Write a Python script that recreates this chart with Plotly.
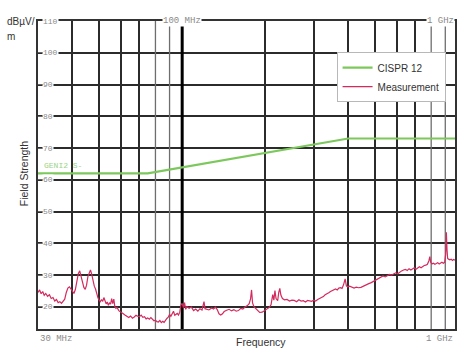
import numpy as np
import plotly.graph_objects as go

# CISPR 12 limit (dBµV/m) versus frequency (MHz)
limit_freq = [30, 75, 400, 976]
limit_level = [62, 62, 73, 73]

# Measured field strength (MHz, dBµV/m)
meas_freq = [
    30.0, 30.4, 30.8, 31.2, 31.6, 32.0, 32.5, 33.0, 33.5, 34.0, 34.5, 35.0, 35.5, 36.0, 36.5,
    37.0, 37.5, 38.0, 38.5, 39.0, 39.5, 40.0, 40.5, 41.0, 41.5, 42.0, 42.5, 43.0, 43.5, 44.0,
    44.5, 45.0, 45.5, 46.0, 46.5, 47.0, 47.5, 48.0, 48.5, 49.0, 49.5, 50.0, 50.5, 51.0, 51.5,
    52.0, 52.5, 53.0, 53.5, 54.0, 54.5, 55.0, 55.5, 56.0, 56.5, 57.0, 57.5, 58.0, 59.0, 60.0,
    61.0, 62.0, 63.0, 64.0, 65.0, 66.0, 67.0, 68.0, 69.0, 70.0, 71.0, 72.0, 73.0, 74.0, 75.0,
    76.0, 77.0, 78.0, 79.0, 80.0, 81.0, 82.0, 83.0, 84.0, 85.0, 86.0, 87.0, 88.0, 89.0, 90.0,
    91.0, 92.0, 93.0, 94.0, 95.0, 96.0, 97.0, 98.0, 99.0, 100.0, 101.0, 102.0, 103.0, 104.0,
    106.0, 108.0, 110.0, 112.0, 114.0, 116.0, 118.0, 120.0, 121.0, 123.0, 125.0, 128.0, 130.0,
    132.0, 134.0, 136.0, 138.0, 140.0, 142.0, 145.0, 148.0, 151.0, 154.0, 157.0, 160.0, 163.0,
    166.0, 169.0, 172.0, 175.0, 177.0, 178.5, 180.0, 182.0, 185.0, 188.0, 191.0, 195.0, 199.0,
    203.0, 207.0, 210.0, 213.0, 215.0, 217.0, 219.0, 222.0, 224.0, 226.0, 228.0, 231.0, 235.0,
    240.0, 245.0, 250.0, 255.0, 260.0, 265.0, 270.0, 275.0, 280.0, 285.0, 290.0, 295.0, 300.0,
    305.0, 310.0, 315.0, 320.0, 325.0, 330.0, 335.0, 340.0, 345.0, 350.0, 355.0, 360.0, 365.0,
    370.0, 375.0, 380.0, 385.0, 390.0, 394.0, 398.0, 405.0, 412.0, 420.0, 428.0, 436.0, 445.0,
    455.0, 465.0, 475.0, 485.0, 495.0, 505.0, 515.0, 525.0, 535.0, 545.0, 555.0, 565.0, 575.0,
    585.0, 595.0, 605.0, 615.0, 625.0, 635.0, 645.0, 655.0, 665.0, 675.0, 685.0, 695.0, 705.0,
    715.0, 725.0, 735.0, 745.0, 755.0, 765.0, 775.0, 785.0, 791.0, 797.0, 805.0, 815.0, 825.0,
    835.0, 845.0, 855.0, 865.0, 875.0, 885.0, 895.0, 903.0, 908.0, 913.0, 918.0, 925.0, 935.0,
    945.0, 955.0, 965.0, 976.0,
]
meas_level = [
    24.5, 25.3, 24.1, 24.8, 23.6, 24.2, 23.3, 23.8, 22.6, 22.9, 21.8, 22.3, 21.3, 21.6, 21.1,
    21.8, 22.4, 24.5, 25.9, 26.3, 25.6, 25.0, 24.2, 25.5, 28.5, 30.4, 31.3, 29.5, 27.0, 26.1,
    25.5, 26.8, 29.5, 31.0, 31.6, 30.2, 28.0, 26.5, 25.6, 24.0, 22.8, 22.1, 21.6, 22.3, 21.7,
    22.9, 21.4, 20.9, 21.5, 20.5, 21.2, 20.8, 22.6, 21.0, 22.4, 20.0, 19.5, 19.8, 18.7, 18.4,
    17.9, 17.4, 17.0, 16.6, 17.1, 16.4, 16.8, 17.3, 17.0, 16.9, 17.4, 16.7, 16.9, 16.2, 16.5,
    16.1, 16.6, 16.0, 15.6, 15.8, 15.3, 15.2, 15.7, 15.0, 15.4, 15.1, 15.9, 16.3, 16.7, 17.6,
    17.0, 17.8, 18.6, 17.3, 17.5, 17.9, 17.4, 18.3, 20.6, 21.1, 19.7, 21.3, 19.2, 20.0,
    19.5, 19.9, 18.8, 19.3, 18.6, 19.4, 19.0, 21.6, 19.4, 19.2, 19.0, 19.6, 19.3,
    19.9, 19.1, 17.8, 17.4, 17.8, 18.5, 18.9, 19.2, 18.7, 19.1, 18.6, 18.8, 19.5,
    19.3, 19.9, 20.3, 21.0, 22.5, 25.3, 21.2, 20.0, 19.4, 18.5, 18.2, 18.3, 18.9,
    19.4, 19.8, 20.6, 23.8, 22.1, 25.1, 22.6, 21.9, 24.5, 25.8, 23.7, 22.6, 22.2,
    22.3, 21.8, 22.1, 22.0, 21.6, 22.2, 21.8, 21.9, 21.5, 22.0, 21.9, 21.7, 22.1,
    21.8, 22.3, 22.6, 22.9, 23.2, 23.8, 24.0, 24.4, 24.8, 25.0, 25.2, 25.6, 25.3,
    25.9, 26.0, 25.8, 27.0, 28.8, 26.6, 26.3, 26.5, 26.1, 25.9, 26.2, 26.0, 26.1,
    26.6, 26.9, 27.3, 27.6, 28.0, 28.5, 29.0, 29.3, 29.7, 29.4, 29.9, 30.2, 30.0,
    30.5, 30.7, 30.4, 31.0, 31.3, 31.6, 31.8, 31.4, 32.0, 31.6, 32.1, 32.3, 31.8,
    32.2, 32.6, 32.3, 32.8, 33.0, 33.1, 33.4, 34.5, 35.8, 34.0, 33.5, 33.7, 33.4,
    33.6, 33.9, 33.5, 33.8, 34.0, 33.7, 34.0, 36.5, 43.5, 38.0, 35.2, 35.0, 34.8,
    35.0, 34.6, 34.9, 34.7,
]

# Axis ticks and grid positions
y_ticks = [20, 30, 40, 50, 60, 70, 80, 90, 100, 110]
x_grid_dark = [40, 50, 60, 70, 200, 300, 400, 500, 600, 700]
x_grid_light = [80, 90, 800, 900]
x_grid_major = [100]

x_min, x_max = 30, 976
y_min, y_max = 13, 110

mono = "Liberation Mono"
sans = "Liberation Sans"

fig = go.Figure()

# lighter vertical grid lines
for f in x_grid_light:
    fig.add_trace(go.Scatter(
        x=[f, f], y=[y_min, y_max], mode="lines",
        line=dict(color="#6e6e6e", width=1.3),
        showlegend=False, hoverinfo="skip"))

# heavy 100 MHz decade line
for f in x_grid_major:
    fig.add_trace(go.Scatter(
        x=[f, f], y=[y_min, y_max], mode="lines",
        line=dict(color="#000000", width=3),
        showlegend=False, hoverinfo="skip"))

fig.add_trace(go.Scatter(
    x=limit_freq, y=limit_level, mode="lines", name="CISPR 12",
    line=dict(color="#7cc85c", width=2.2)))

fig.add_trace(go.Scatter(
    x=meas_freq, y=meas_level, mode="lines", name="Measurement",
    line=dict(color="#d42a5e", width=1.2)))

annotations = []
# level labels sitting on the horizontal grid lines
for v in y_ticks:
    annotations.append(dict(
        x=0, xref="paper", y=v, yref="y", xanchor="left", yanchor="middle",
        xshift=4, text=str(v), showarrow=False, bgcolor="white", borderpad=0,
        font=dict(family=mono, size=8, color="#8a8a8a")))

# frequency markers
annotations += [
    dict(x=np.log10(100), xref="x", y=1, yref="paper", xanchor="center", yanchor="middle",
         text="100 MHz", showarrow=False, bgcolor="white", borderpad=0,
         font=dict(family=mono, size=9, color="#8a8a8a")),
    dict(x=1, xref="paper", y=1, yref="paper", xanchor="right", yanchor="middle",
         text="1 GHz", showarrow=False, bgcolor="white", borderpad=0,
         font=dict(family=mono, size=9, color="#8a8a8a")),
    dict(x=0, xref="paper", y=0, yref="paper", xanchor="left", yanchor="top",
         yshift=-3, text="30 MHz", showarrow=False,
         font=dict(family=mono, size=9, color="#8a8a8a")),
    dict(x=1, xref="paper", y=0, yref="paper", xanchor="right", yanchor="top",
         yshift=-3, text="1 GHz", showarrow=False,
         font=dict(family=mono, size=9, color="#8a8a8a")),
    # limit line tag
    dict(x=0, xref="paper", y=limit_level[0], yref="y", xanchor="left", yanchor="bottom",
         xshift=4, yshift=1, text="GENI2 S-", showarrow=False,
         font=dict(family=mono, size=8, color="#9ad486")),
    # unit and axis titles
    dict(x=-33 / 419, xref="paper", y=1, yref="paper", xanchor="left", yanchor="middle",
         text="dBµV/", showarrow=False, font=dict(family=sans, size=10, color="#333333")),
    dict(x=-33 / 419, xref="paper", y=1, yref="paper", xanchor="left", yanchor="middle",
         yshift=-15, text="m", showarrow=False, font=dict(family=sans, size=10, color="#333333")),
    dict(x=-0.033, xref="paper", y=0.5, yref="paper", xanchor="center", yanchor="middle",
         yshift=2, text="Field Strength", textangle=-90, showarrow=False,
         font=dict(family=sans, size=10.5, color="#333333")),
    dict(x=0.535, xref="paper", y=0, yref="paper", xanchor="center", yanchor="middle",
         yshift=-13, text="Frequency", showarrow=False,
         font=dict(family=sans, size=10.5, color="#333333")),
]

fig.update_layout(
    width=457, height=349,
    margin=dict(l=38, r=0, t=21, b=20),
    paper_bgcolor="white", plot_bgcolor="white",
    showlegend=True,
    legend=dict(
        x=0.716, y=0.899, xanchor="left", yanchor="top",
        bgcolor="white", bordercolor="#b8b8b8", borderwidth=1,
        font=dict(family=sans, size=10, color="#333333"),
        itemwidth=30, tracegroupgap=0),
    annotations=annotations,
    xaxis=dict(
        type="log", range=[np.log10(x_min), np.log10(x_max)],
        tickvals=x_grid_dark, showticklabels=False, ticks="",
        showgrid=True, gridcolor="#2b2b2b", gridwidth=1.5,
        showline=True, linecolor="#333333", linewidth=1.5, mirror=True,
        zeroline=False),
    yaxis=dict(
        range=[y_min, y_max], tickvals=y_ticks, showticklabels=False,
        ticks="inside", ticklen=4, tickcolor="#666666",
        showgrid=True, gridcolor="#2b2b2b", gridwidth=1.5,
        showline=True, linecolor="#333333", linewidth=1.5, mirror=True,
        zeroline=False),
)

fig.write_html("out.html")
